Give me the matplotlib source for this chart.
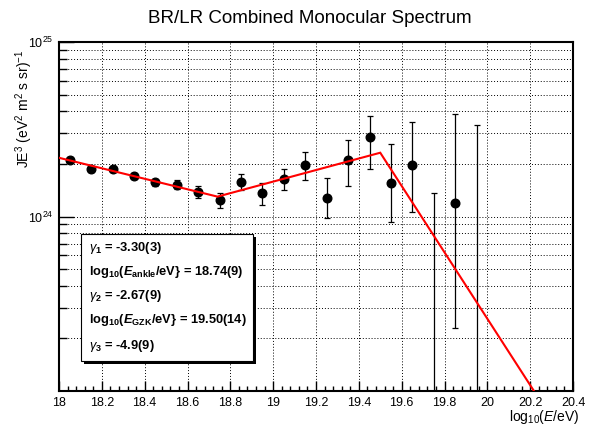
import numpy as np
import matplotlib
matplotlib.use("Agg")
import matplotlib.pyplot as plt
from matplotlib.ticker import FixedLocator, MultipleLocator, LogLocator, NullFormatter, FuncFormatter
from matplotlib.patches import Rectangle

plt.rcParams['font.family'] = ['Liberation Sans', 'DejaVu Sans']
plt.rcParams['mathtext.fontset'] = 'custom'
plt.rcParams['mathtext.rm'] = 'Liberation Sans'
plt.rcParams['mathtext.it'] = 'Liberation Sans:italic'
plt.rcParams['mathtext.bf'] = 'Liberation Sans:bold'
try:
    plt.rcParams['mathtext.bfit'] = 'Liberation Sans:bold:italic'
except KeyError:
    pass

# ---- data (JE^3 in units of 1e24) ----
log_e = [18.05, 18.15, 18.25, 18.35, 18.45, 18.55, 18.65, 18.75, 18.85, 18.95,
         19.05, 19.15, 19.25, 19.35, 19.45, 19.55, 19.65, 19.75, 19.85, 19.95]
je3 = [2.12, 1.86, 1.87, 1.70, 1.57, 1.52, 1.38, 1.24, 1.58, 1.37,
       1.63, 1.98, 1.28, 2.12, 2.87, 1.56, 1.98, 0.0, 1.20, 0.0]
je3_lo = [2.05, 1.80, 1.81, 1.63, 1.50, 1.43, 1.27, 1.12, 1.42, 1.17,
          1.42, 1.61, 0.975, 1.49, 1.88, 0.925, 1.055, 0.0, 0.229, 0.0]
je3_hi = [2.19, 1.92, 1.93, 1.77, 1.64, 1.61, 1.49, 1.37, 1.75, 1.56,
          1.87, 2.35, 1.67, 2.75, 3.78, 2.61, 3.49, 1.37, 3.88, 3.36]
scale = 1e24

# fit line vertices (broken power law, in JE^3)
fit_x = [18.0, 18.74, 19.50, 20.4]
fit_y = [2.17, 1.30, 2.32, 0.045]

stats_lines = [
    r"$\gamma_{\mathbf{1}}$ = -3.30(3)",
    r"log$_{\mathbf{10}}$($\mathbfit{E}_{\mathbf{ankle}}$/eV} = 18.74(9)",
    r"$\gamma_{\mathbf{2}}$ = -2.67(9)",
    r"log$_{\mathbf{10}}$($\mathbfit{E}_{\mathbf{GZK}}$/eV} = 19.50(14)",
    r"$\gamma_{\mathbf{3}}$ = -4.9(9)",
]
title = "BR/LR Combined Monocular Spectrum"
xlabel = r"log$_{10}$($\it{E}$/eV)"
ylabel = r"JE$^{3}$ (eV$^{2}$ m$^{2}$ s sr)$^{-1}$"

W, H = 593, 426
def fx(px): return px / W
def fy(py): return 1 - py / H

fig = plt.figure(figsize=(W / 100, H / 100), dpi=100)
ax = fig.add_axes([fx(59), fy(391), fx(573) - fx(59), (391 - 42) / H])
ax.set_yscale('log')
ax.set_xlim(18.0, 20.4)
ax.set_ylim(1e23, 1e25)

x = np.array(log_e)
y = np.array(je3) * scale
lo = np.array(je3_lo) * scale
hi = np.array(je3_hi) * scale
yerr = np.vstack([y - lo, hi - y])

ax.errorbar(x, y, yerr=yerr, fmt='none', ecolor='black', elinewidth=0.9,
            capsize=2.0, capthick=0.9, zorder=3)
mask = y > 0
ax.plot(x[mask], y[mask], 'o', color='black', markersize=6.2, zorder=4)
ax.plot(fit_x, np.array(fit_y) * scale, color='#ff0000', lw=1.5, zorder=5,
        solid_joinstyle='miter')

# ticks
ax.xaxis.set_major_locator(MultipleLocator(0.2))
ax.xaxis.set_minor_locator(MultipleLocator(0.04))
ax.xaxis.set_major_formatter(FuncFormatter(lambda v, p: f"{v:g}"))
ax.yaxis.set_major_locator(FixedLocator([1e24, 1e25]))
ax.yaxis.set_minor_locator(LogLocator(base=10, subs=np.arange(2, 10)))
ax.yaxis.set_minor_formatter(NullFormatter())
ax.yaxis.set_major_formatter(FuncFormatter(lambda v, p: r"$10^{%d}$" % round(np.log10(v))))
ax.tick_params(axis='x', which='major', direction='in', length=7, width=1.0,
               labelsize=9, pad=4, top=False)
ax.tick_params(axis='x', which='minor', direction='in', length=3.5, width=1.0, top=False)
ax.tick_params(axis='y', which='major', direction='in', length=11, width=1.0,
               labelsize=9, pad=4, right=False)
ax.tick_params(axis='y', which='minor', direction='in', length=5.5, width=1.0, right=False)

ax.grid(True, which='major', axis='x', color='black', lw=0.7, linestyle=(0, (1, 2)))
ax.grid(True, which='both', axis='y', color='black', lw=0.7, linestyle=(0, (1, 2)))
ax.set_axisbelow(True)
for s in ax.spines.values():
    s.set_linewidth(1.5)

# titles
fig.text(fx(310), fy(23), title, ha='center', va='baseline', fontsize=13.5)
fig.text(fx(24), fy(50), ylabel, rotation=90, ha='center', va='top', fontsize=10)
fig.text(fx(579), fy(421), xlabel, ha='right', va='baseline', fontsize=10)

# stats box
fig.add_artist(Rectangle((fx(84), fy(364)), fx(256) - fx(84), (364 - 237) / H,
                         transform=fig.transFigure, facecolor='black',
                         edgecolor='black', lw=0, zorder=10))
fig.add_artist(Rectangle((fx(80.5), fy(360.5)), fx(252.5) - fx(80.5), (360.5 - 234) / H,
                         transform=fig.transFigure, facecolor='white',
                         edgecolor='black', lw=0.8, zorder=11))
baselines = [251.5, 275.5, 299.5, 323.5, 349.0]
for s, b in zip(stats_lines, baselines):
    fig.text(fx(89), fy(b), s, ha='left', va='baseline', fontsize=9.3,
             fontweight='bold', zorder=12)

fig.savefig("out.png", dpi=100)
